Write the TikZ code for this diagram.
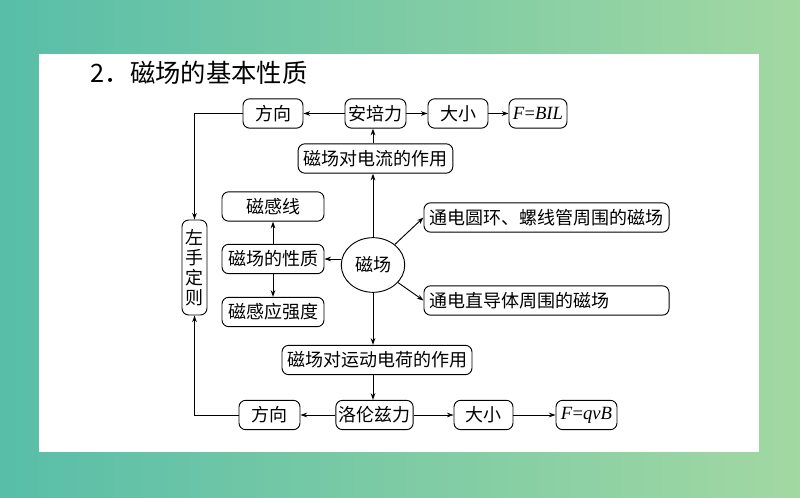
\documentclass[tikz,border=0pt]{standalone}
\usepackage{fontspec}
\newfontfamily\cjk{Noto Sans CJK SC}
\newfontfamily\tms{Liberation Serif}
\usetikzlibrary{arrows.meta,shapes.geometric}
\definecolor{bgleft}{RGB}{88,190,168}
\definecolor{bgright}{RGB}{162,216,162}

\begin{document}
\begin{tikzpicture}[
  x = 0.75pt, y = -0.75pt,
  every node/.style = {font = \cjk\fontsize{13.5}{15}\selectfont},
  rbox/.style = {draw, rounded corners = 5pt, minimum height = 22pt,
                 minimum width = #1, inner sep = 2pt, line width = 0.7pt},
  link/.style = {-{Stealth[length = 5pt, width = 3.5pt]}, line width = 0.7pt}
  ]
  % background and panel
  \fill[left color = bgleft, right color = bgright] (0,0) rectangle (800,498);
  \fill[white] (39,54) rectangle (759,452);
  \node[anchor = west, font = \cjk\fontsize{19}{24}\selectfont] (title) at (86,73) {2．磁场的基本性质};

  % top row
  \node[rbox = 45pt]    (fx1)  at (273,113.5)   {方向};
  \node[rbox = 45.75pt] (af)   at (375.5,113.5) {安培力};
  \node[rbox = 45pt]    (dx1)  at (458,113.5)   {大小};
  \node[rbox = 43.5pt, font = \tms\fontsize{14}{15}\selectfont]
        (fbil) at (538,113.5) {\textit{F}=\textit{BIL}};
  \node[rbox = 116pt]   (dl)   at (375.5,158.5) {磁场对电流的作用};

  % left column
  \node[rbox = 76.5pt] (cgx) at (273,206.5) {磁感线};
  \node[rbox = 76.5pt] (xz)  at (273,259)   {磁场的性质};
  \node[rbox = 76.5pt] (cgq) at (273,312)   {磁感应强度};
  \node[rbox = 18.75pt, minimum height = 71.25pt, align = center] (zs) at (194.5,267.5)
        {左\\手\\定\\则};

  % centre and right
  \node[draw, ellipse, minimum width = 45pt, minimum height = 41pt, line width = 0.7pt]
        (cc) at (373,265) {磁场};
  \node[rbox = 183.75pt, text width = 175pt, align = left, inner xsep = 4.4pt]
        (hh) at (546.5,217.5) {通电圆环、螺线管周围的磁场};
  \node[rbox = 183.75pt, text width = 175pt, align = left, inner xsep = 4.4pt]
        (zd) at (546.5,300.5) {通电直导体周围的磁场};

  % bottom row
  \node[rbox = 142.5pt] (yd)   at (377,360)   {磁场对运动电荷的作用};
  \node[rbox = 45.75pt] (fx2)  at (269.5,415) {方向};
  \node[rbox = 57.75pt] (lz)   at (374.5,415) {洛伦兹力};
  \node[rbox = 44.25pt] (dx2)  at (483.5,415) {大小};
  \node[rbox = 45.75pt, font = \tms\fontsize{14}{15}\selectfont]
        (fqvb) at (586.5,415) {\textit{F}=\textit{qvB}};

  % connectors
  \draw[link] (cc.north) -- (cc.north |- dl.south);
  \draw[link] (cc.north |- dl.north) -- (cc.north |- af.south);
  \draw[link] (af.west) -- (fx1.east);
  \draw[link] (af.east) -- (dx1.west);
  \draw[link] (dx1.east) -- (fbil.west);
  \draw[link] (fx1.west) -| (zs.north);

  \draw[link] (cc.west |- xz.east) -- (xz.east);
  \draw[link] (xz.north) -- (cgx.south);
  \draw[link] (xz.south) -- (cgq.north);
  \draw[link] (cc) -- (hh.west);
  \draw[link] (cc) -- (zd.west);

  \draw[link] (cc.south) -- (cc.south |- yd.north);
  \draw[link] (cc.south |- yd.south) -- (cc.south |- lz.north);
  \draw[link] (lz.west) -- (fx2.east);
  \draw[link] (lz.east) -- (dx2.west);
  \draw[link] (dx2.east) -- (fqvb.west);
  \draw[link] (fx2.west) -| (zs.south);
\end{tikzpicture}
\end{document}
